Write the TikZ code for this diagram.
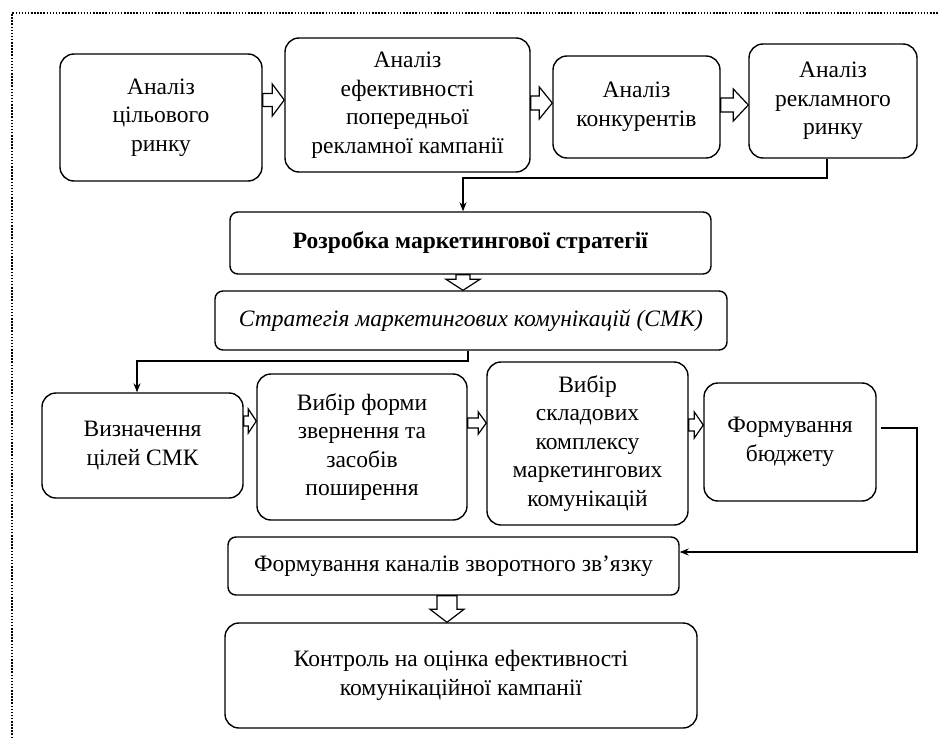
\documentclass[tikz,border=0pt]{standalone}
\usepackage{fontspec}
\setmainfont{Liberation Serif}
\usetikzlibrary{calc,arrows.meta}
\tikzset{
  box/.style={draw, line width=1.4pt, rounded corners=14pt, align=center, inner sep=0pt,
    font=\fontsize{23.5}{28.5}\selectfont},
  sbox/.style={box, rounded corners=8pt},
  hollow/.style={draw, line width=1.2pt, fill=white, line join=miter},
  conn/.style={line width=1.2pt, -{Stealth[length=9pt,width=7pt]}},
  frame/.style={line width=1.6pt, dash pattern=on 1.5pt off 1.6pt}
}
% horizontal hollow arrow: from, to, y, shaft half, head half, head length
\newcommand{\harr}[6]{%
  \path[hollow] let \p1=(#1.east), \p2=(#2.west), \p3=(0,#3) in
    (\x1,\y3+#4) -- (\x2-#6,\y3+#4) -- (\x2-#6,\y3+#5) -- (\x2,\y3)
    -- (\x2-#6,\y3-#5) -- (\x2-#6,\y3-#4) -- (\x1,\y3-#4) -- cycle;}
% vertical hollow arrow: from, to, x, shaft half, head half, head length
\newcommand{\varr}[6]{%
  \path[hollow] let \p1=(#1.south), \p2=(#2.north), \p3=(#3,0) in
    (\x3-#4,\y1) -- (\x3-#4,\y2+#6) -- (\x3-#5,\y2+#6) -- (\x3,\y2)
    -- (\x3+#5,\y2+#6) -- (\x3+#4,\y2+#6) -- (\x3+#4,\y1) -- cycle;}
\begin{document}
\begin{tikzpicture}[x=1pt,y=-1pt]
\useasboundingbox (0,0) rectangle (939,738);
\draw[frame] (12,738) -- (12,13) -- (939,13);

\node[box, minimum width=202pt, minimum height=127pt] (a1) at (161,117.5) {Аналіз\\цільового\\ринку};
\node[box, minimum width=245pt, minimum height=134pt] (a2) at (407.5,105) {Аналіз\\ефективності\\попередньої\\рекламної кампанії};
\node[box, minimum width=167pt, minimum height=102pt] (a3) at (636.5,107) {Аналіз\\конкурентів};
\node[box, minimum width=168pt, minimum height=114pt] (a4) at (833,101) {Аналіз\\рекламного\\ринку};

\node[sbox, minimum width=481pt, minimum height=62pt] (r) at (470.5,243) {\textbf{Розробка маркетингової стратегії}};
\node[sbox, minimum width=512pt, minimum height=59pt] (s) at (471,320.5) {\textit{Стратегія маркетингових комунікацій (СМК)}};

\node[box, minimum width=201pt, minimum height=105pt] (b1) at (142.5,445.5) {Визначення\\цілей СМК};
\node[box, minimum width=210pt, minimum height=146pt] (b2) at (362,447) {Вибір форми\\звернення та\\засобів\\поширення};
\node[box, minimum width=201pt, minimum height=163pt] (b3) at (587.5,443.5) {Вибір\\складових\\комплексу\\маркетингових\\комунікацій};
\node[box, minimum width=172pt, minimum height=118pt] (b4) at (790,442) {Формування\\бюджету};

\node[sbox, minimum width=451pt, minimum height=58pt] (f) at (453.5,566) {Формування каналів зворотного зв’язку};
\node[box, minimum width=472pt, minimum height=105pt] (k) at (461,675.5) {Контроль на оцінка ефективності\\комунікаційної кампанії};

% hollow arrows
\harr{a1}{a2}{100}{6.5pt}{16pt}{12pt}
\harr{a2}{a3}{103}{7pt}{16pt}{13pt}
\harr{a3}{a4}{105}{7pt}{16pt}{15pt}
\harr{b1}{b2}{421}{5pt}{12pt}{8pt}
\harr{b2}{b3}{423}{5pt}{11pt}{8pt}
\harr{b3}{b4}{425}{6pt}{13pt}{9pt}
\varr{r}{s}{463}{7pt}{17pt}{11pt}
\varr{f}{k}{447}{10pt}{17pt}{13pt}

% connectors
\coordinate (j1) at (463,178);
\draw[conn] ([xshift=-6pt]a4.south) |- (j1) -- (j1 |- r.north);
\coordinate (j2) at (137,361);
\draw[conn] ([xshift=-3pt]s.south) |- (j2) -- (j2 |- b1.north);
\coordinate (j3) at (917,428);
\coordinate (j4) at (917,552);
\draw[conn] ([xshift=4pt,yshift=14pt]b4.east) -- (j3) -- (j4) -- (j4 -| f.east);
\end{tikzpicture}
\end{document}
